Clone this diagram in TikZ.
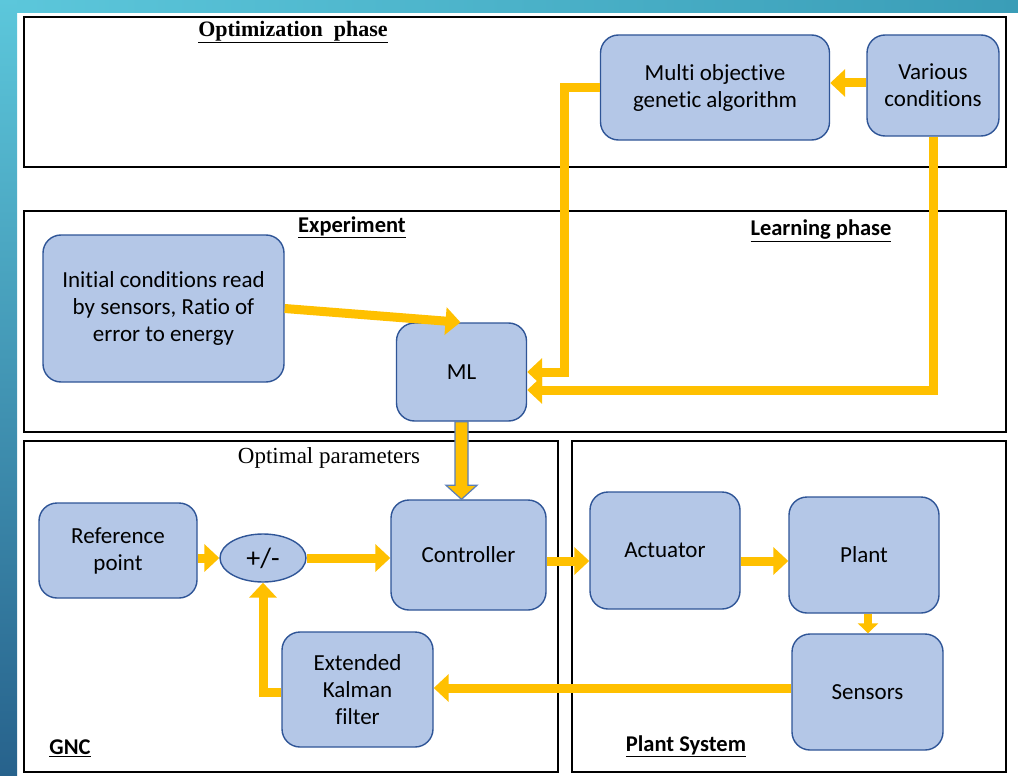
\documentclass[tikz,border=0pt]{standalone}
\usepackage{fontspec}
\usetikzlibrary{arrows.meta,shapes.geometric,calc}
\newfontfamily\boxfont[Ligatures=NoCommon]{Carlito}
\newfontfamily\serifont{Liberation Serif}
\definecolor{flowc}{HTML}{FFC000}
\definecolor{boxfill}{HTML}{B4C7E7}
\definecolor{boxline}{HTML}{2F5597}
\definecolor{tealA}{HTML}{5CC7DB}
\definecolor{tealB}{HTML}{3A9DB7}
\definecolor{tealC}{HTML}{27628C}
\definecolor{blkline}{HTML}{5B7FB8}
\tikzset{
  panel/.style={draw=black, line width=1.8pt},
  blockbox/.style={draw=boxline, fill=boxfill, line width=1.4pt, rounded corners=18pt,
    align=center, inner sep=0pt, font=\boxfont\fontsize{23}{27}\selectfont},
  sumnode/.style={ellipse, draw=boxline, fill=boxfill, line width=1.4pt, inner sep=0pt,
    minimum width=86pt, minimum height=48pt, font=\boxfont\fontsize{28}{30}\selectfont},
  flow/.style={draw=flowc, line width=9pt, -{Triangle[length=15pt,width=27pt]}},
  thinflow/.style={draw=flowc, line width=8pt, -{Triangle[length=10pt,width=20pt]}},
  panellabel/.style={font=\boxfont\bfseries\fontsize{22.5}{24}\selectfont, inner sep=0pt},
}
\begin{document}
\begin{tikzpicture}[x=1pt, y=-1pt]
\useasboundingbox (0,0) rectangle (1018,776);
% page background and coloured edges
\fill[white] (0,0) rectangle (1018,776);
\shade[left color=tealA, right color=tealB] (0,0) rectangle (1018,13);
\shade[top color=tealA, bottom color=tealC] (0,0) rectangle (17,776);

% phase panels
\draw[panel] (24,17) rectangle (1006,167);
\draw[panel] (24,211) rectangle (1006,432);
\draw[panel] (24,441) rectangle (558,772);
\draw[panel] (572,441) rectangle (1006,772);

% panel titles
\node[font=\serifont\bfseries\fontsize{22}{24}\selectfont, inner sep=0pt] (tOpt) at (293,32) {\underline{Optimization\ \ phase}};
\node[panellabel] (tExp) at (352,227) {\underline{Experiment}};
\node[panellabel] (tLearn) at (821,231) {\underline{Learning phase}};
\node[font=\serifont\fontsize{23}{26}\selectfont, inner sep=0pt] (tOptPar) at (329,458) {Optimal parameters};
\node[panellabel] (tGnc) at (70,748) {\underline{GNC}};
\node[panellabel] (tPlant) at (686,746) {\underline{Plant System}};

% blocks
\node[blockbox, minimum width=229pt, minimum height=105pt] (moga) at (715,87.5) {Multi objective\\genetic algorithm};
\node[blockbox, minimum width=132pt, minimum height=101pt] (various) at (933,85.5) {Various\\conditions};
\node[blockbox, minimum width=241pt, minimum height=147pt] (init) at (163.5,308.5) {Initial conditions read\\by sensors, Ratio of\\error to energy};
\node[blockbox, minimum width=130pt, minimum height=98pt] (ml) at (461.5,372) {ML};
\node[blockbox, minimum width=158pt, minimum height=95pt] (ref) at (118,550.5) {Reference\\point};
\node[sumnode] (pm) at (263,558) {+/-};
\node[blockbox, minimum width=155pt, minimum height=110pt] (ctrl) at (468.5,555) {Controller};
\node[blockbox, minimum width=150pt, minimum height=117pt] (act) at (665,550.5) {Actuator};
\node[blockbox, minimum width=150pt, minimum height=116pt] (plant) at (864,555) {Plant};
\node[blockbox, minimum width=151pt, minimum height=116pt] (sens) at (867.5,692) {Sensors};
\node[blockbox, minimum width=151pt, minimum height=115pt] (ekf) at (357.5,689.5) {Extended\\Kalman\\filter};

% optimisation and learning flows
\draw[flow] ($(various.west)+(0,-2.5)$) -- ($(moga.east)+(0,-4.5)$);
\draw[flow] (moga.west) -| ($(ml.east)+(37,0)$) -- (ml.east);
\draw[flow] (various.south) |- ($(ml.east)+(0,18)$);
\draw[flow] (init.east) -- ($(ml.north)+(-1,0)$);

% optimal parameters handed to the controller
\path let \p1=(ml.south), \p2=(ml.south |- ctrl.north) in
  [draw=blkline, fill=flowc, line width=1.2pt, line join=miter]
  (\x1-6.5pt,\y1) -- (\x1-6.5pt,\y2+14pt) -- (\x1-15.5pt,\y2+14pt) -- (\x1,\y2)
  -- (\x1+15.5pt,\y2+14pt) -- (\x1+6.5pt,\y2+14pt) -- (\x1+6.5pt,\y1) -- cycle;

% control loop
\coordinate (rowA) at (0,561);
\coordinate (rowB) at (0,688);
\draw[flow] (ref.east |- pm.west) -- (pm.west);
\draw[flow] (pm.east) -- (ctrl.west |- pm.east);
\draw[flow] (ctrl.east |- rowA) -- (act.west |- rowA);
\draw[flow] (act.east |- rowA) -- (plant.west |- rowA);
\draw[thinflow] ($(plant.south)+(4,0)$) -- ($(plant.south |- sens.north)+(4,0)$);
\draw[flow] (sens.west |- rowB) -- (ekf.east |- rowB);
\draw[flow] ($(ekf.west)+(0,3)$) -| (pm.south);
\end{tikzpicture}
\end{document}
